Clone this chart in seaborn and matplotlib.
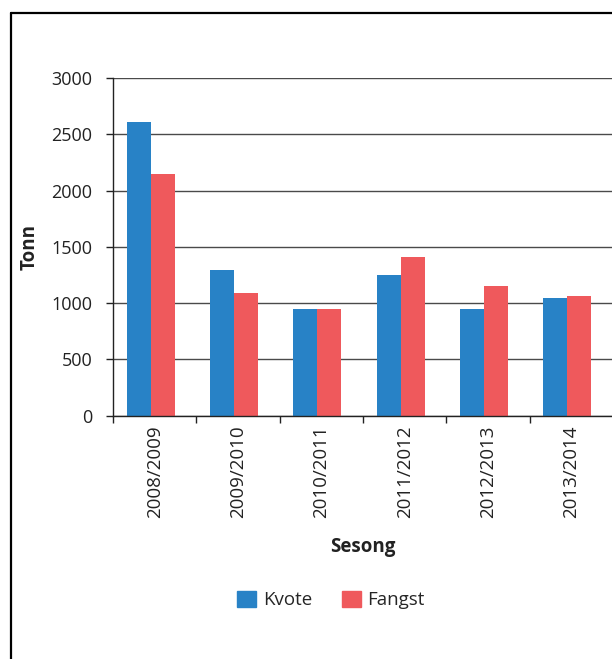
import pandas as pd
import numpy as np
import matplotlib
matplotlib.use('Agg')
import matplotlib.pyplot as plt
from matplotlib.lines import Line2D
import seaborn as sns

sns.set_theme(style='white')
plt.rcParams['font.family'] = ['Open Sans', 'DejaVu Sans']

# Data
seasons = ['2008/2009', '2009/2010', '2010/2011', '2011/2012', '2012/2013', '2013/2014']
kvote = [2610, 1290, 950, 1250, 950, 1045]
fangst = [2150, 1090, 945, 1410, 1155, 1060]

df = pd.DataFrame({
    'Sesong': seasons * 2,
    'Tonn': kvote + fangst,
    'Serie': ['Kvote'] * len(seasons) + ['Fangst'] * len(seasons),
})
palette = {'Kvote': '#2882c6', 'Fangst': '#ef595c'}

fig = plt.figure(figsize=(6.12, 6.59), dpi=100)
ax = fig.add_axes([113 / 612, 1 - 415.7 / 659, 500 / 612, 337.7 / 659])

sns.barplot(data=df, x='Sesong', y='Tonn', hue='Serie', palette=palette,
            width=0.576, saturation=1, ax=ax, legend=False, linewidth=0)

# bars sit slightly left of the category centre in the original
for p in ax.patches:
    p.set_x(p.get_x() - 0.05)

ax.set_ylim(0, 3000)
ax.set_xlim(-0.5, len(seasons) - 0.5)
ax.set_yticks(np.arange(0, 3001, 500))
ax.yaxis.grid(True, color='#4a4a4a', linewidth=1.0)
ax.set_axisbelow(True)

for s in ['top', 'right']:
    ax.spines[s].set_visible(False)
ax.spines['left'].set_color('#222222')
ax.spines['bottom'].set_color('#222222')
ax.spines['left'].set_linewidth(1.0)
ax.spines['bottom'].set_linewidth(1.0)

ax.set_xticks(np.arange(len(seasons)))
ax.set_xticklabels(seasons, rotation=90, fontsize=13.5, color='#222222')
ax.set_xticks(np.arange(-0.5, len(seasons) + 0.5, 1), minor=True)
ax.tick_params(axis='x', which='major', length=0, pad=7)
ax.tick_params(axis='x', which='minor', bottom=True, length=5, width=1, color='#222222')
ax.tick_params(axis='y', left=True, length=5, width=1, color='#222222',
               labelsize=13, labelcolor='#222222', pad=10)

ax.set_xlabel('Sesong', fontsize=13.5, fontweight='bold', labelpad=14, color='#222222')
ax.set_ylabel('Tonn', fontsize=13.5, fontweight='bold', labelpad=8, color='#222222')

handles = [plt.Rectangle((0, 0), 1, 1, color=palette['Kvote']),
           plt.Rectangle((0, 0), 1, 1, color=palette['Fangst'])]
fig.legend(handles, ['Kvote', 'Fangst'], loc='center', ncol=2, frameon=False,
           bbox_to_anchor=(331 / 612, 1 - 600 / 659), fontsize=13.5,
           handlelength=1.0, handleheight=1.0, columnspacing=1.6, handletextpad=0.35)

# frame around the figure (left and top edges visible)
fig.add_artist(Line2D([11 / 612, 11 / 612], [0, 1 - 13 / 659], color='black', linewidth=1.6,
                      transform=fig.transFigure))
fig.add_artist(Line2D([11 / 612, 1], [1 - 13 / 659, 1 - 13 / 659], color='black', linewidth=1.6,
                      transform=fig.transFigure))

plt.savefig('out.png', dpi=100)
